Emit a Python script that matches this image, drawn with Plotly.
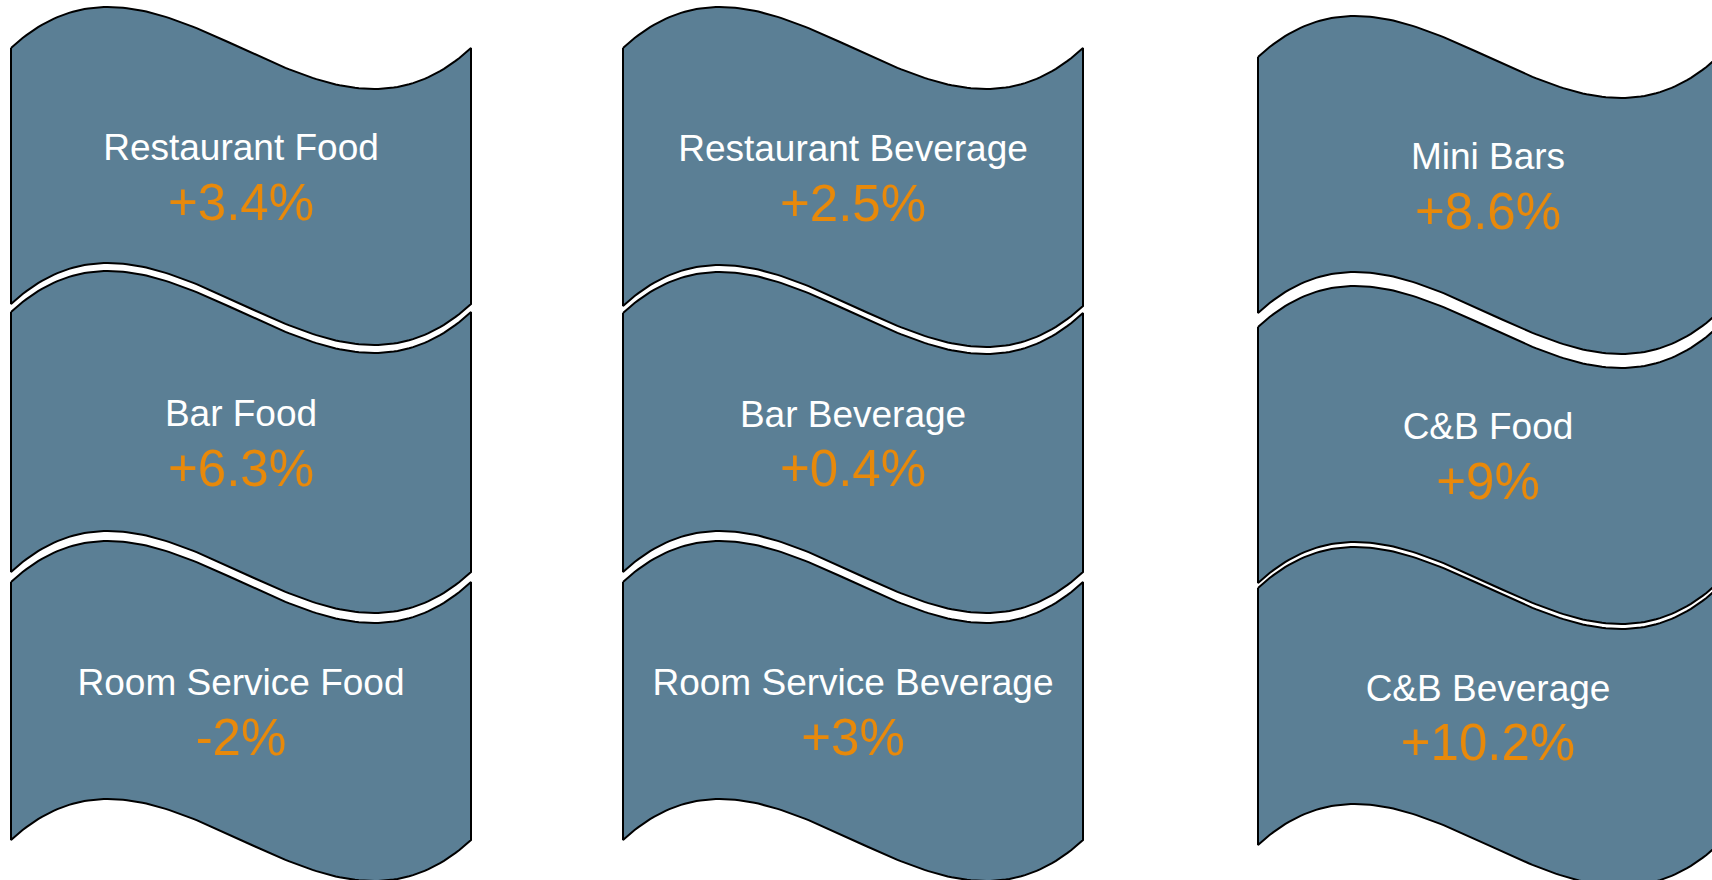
import numpy as np
import plotly.graph_objects as go

# Revenue lines and their year-over-year change (%)
labels = [
    "Restaurant Food", "Bar Food", "Room Service Food",
    "Restaurant Beverage", "Bar Beverage", "Room Service Beverage",
    "Mini Bars", "C&B Food", "C&B Beverage",
]
changes = [3.4, 6.3, -2, 2.5, 0.4, 3, 8.6, 9, 10.2]

# Banner layout (pixel space, y grows downward)
COL_LEFT = [11, 623, 1258]
BANNER_W = 460
BANNER_ROWS = [
    [(48, 304), (312, 572), (582, 840)],
    [(48, 306), (313, 572), (582, 840)],
    [(57, 313), (327, 583), (588, 845)],
]
WAVE_CTRL = 142          # bezier control offset of the wave edge
FILL = "#5B7F95"
ORANGE = "#E8890A"
FONT = "Liberation Sans, Arial, sans-serif"


def wave(x0, y0, w, n=120):
    """Cubic-bezier wave edge from (x0, y0) to (x0 + w, y0)."""
    t = np.linspace(0, 1, n)
    xs = x0 + w * t
    ys = y0 + 3 * WAVE_CTRL * t * (1 - t) * (2 * t - 1)
    return xs, ys


fig = go.Figure()

lab_x, lab_y, val_x, val_y, val_txt = [], [], [], [], []
k = 0
for c, left in enumerate(COL_LEFT):
    for top, bot in BANNER_ROWS[c]:
        tx, ty = wave(left, top, BANNER_W)
        bx, by = wave(left, bot, BANNER_W)
        xs = np.concatenate([tx, bx[::-1], [tx[0]]])
        ys = np.concatenate([ty, by[::-1], [ty[0]]])
        fig.add_trace(go.Scatter(
            x=xs, y=ys, mode="lines", fill="toself", fillcolor=FILL,
            line=dict(color="black", width=2), hoverinfo="skip",
            showlegend=False,
        ))
        cx = left + BANNER_W / 2
        mid = (top + bot) / 2
        lab_x.append(cx)
        lab_y.append(mid - 25)
        val_x.append(cx)
        val_y.append(mid + 31)
        val_txt.append(f"{changes[k]:+g}%")
        k += 1

fig.add_trace(go.Scatter(
    x=lab_x, y=lab_y, mode="text", text=labels,
    textposition="middle center",
    textfont=dict(family=FONT, size=37, color="white"),
    hoverinfo="skip", showlegend=False,
))
fig.add_trace(go.Scatter(
    x=val_x, y=val_y, mode="text", text=val_txt,
    textposition="middle center",
    textfont=dict(family=FONT, size=51, color=ORANGE),
    hoverinfo="skip", showlegend=False,
))

fig.update_layout(
    width=1712, height=880,
    margin=dict(l=0, r=0, t=0, b=0),
    paper_bgcolor="white", plot_bgcolor="white",
    xaxis=dict(range=[0, 1712], visible=False, fixedrange=True),
    yaxis=dict(range=[880, 0], visible=False, fixedrange=True),
)

fig.write_html("out.html")
